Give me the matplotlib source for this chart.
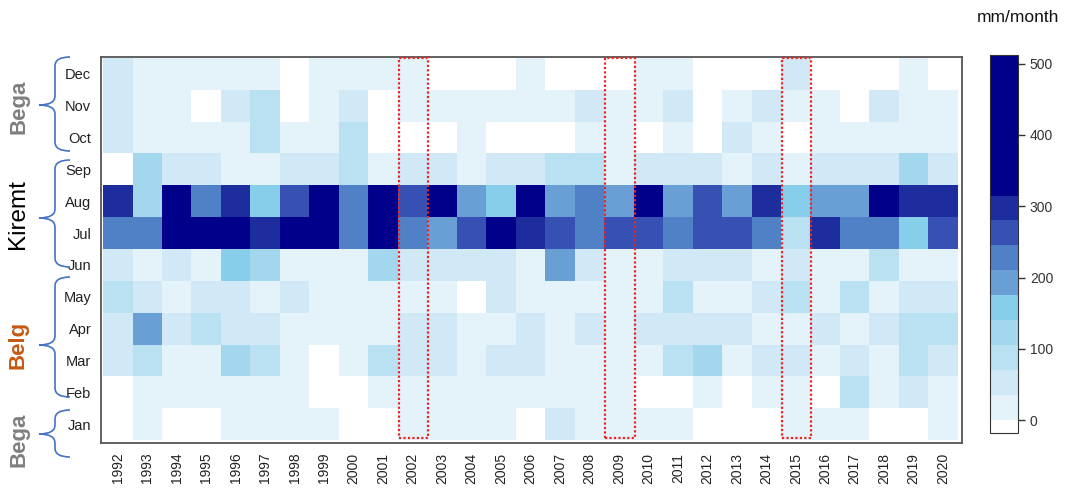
import numpy as np
import matplotlib
matplotlib.use("Agg")
import matplotlib.pyplot as plt
from matplotlib.colors import ListedColormap, BoundaryNorm
from matplotlib.patches import Rectangle, PathPatch
from matplotlib.path import Path

plt.rcParams['font.family'] = ['Liberation Sans', 'DejaVu Sans']

years = [str(y) for y in range(1992, 2021)]
months = ['Jan', 'Feb', 'Mar', 'Apr', 'May', 'Jun', 'Jul', 'Aug', 'Sep', 'Oct', 'Nov', 'Dec']

# monthly rainfall (mm/month), one list per month, 1992..2020
jan = [0, 18, 0, 0, 18, 18, 18, 18, 0, 0, 18, 18, 18, 18, 0, 52, 18, 18, 18, 18, 0, 0, 0, 18, 18, 18, 0, 0, 18]
feb = [0, 18, 18, 18, 18, 18, 18, 0, 0, 18, 18, 18, 18, 18, 18, 18, 18, 18, 0, 0, 18, 0, 18, 18, 0, 88, 18, 52, 18]
mar = [52, 88, 18, 18, 122, 88, 18, 0, 18, 88, 52, 52, 18, 52, 52, 18, 18, 18, 18, 88, 122, 18, 52, 52, 18, 52, 18, 88, 52]
apr = [52, 192, 52, 88, 52, 52, 18, 18, 18, 18, 52, 52, 18, 18, 52, 18, 52, 18, 52, 52, 52, 52, 18, 18, 52, 18, 52, 88, 88]
may = [88, 52, 18, 52, 52, 18, 52, 18, 18, 18, 18, 18, 0, 52, 18, 18, 18, 18, 18, 88, 18, 18, 52, 88, 18, 88, 18, 52, 52]
jun = [52, 18, 52, 18, 158, 122, 18, 18, 18, 122, 52, 52, 52, 52, 18, 192, 52, 18, 18, 52, 52, 52, 18, 52, 18, 18, 88, 18, 18]
jul = [228, 228, 420, 430, 410, 298, 440, 400, 228, 420, 228, 192, 262, 450, 298, 262, 228, 262, 262, 228, 262, 262, 228, 88, 298, 228, 228, 158, 262]
aug = [298, 122, 410, 228, 298, 158, 262, 430, 228, 400, 262, 390, 192, 158, 420, 192, 228, 192, 400, 192, 262, 192, 298, 158, 192, 192, 380, 298, 298]
sep = [0, 122, 52, 52, 18, 18, 52, 52, 88, 18, 52, 52, 18, 52, 52, 88, 88, 18, 52, 52, 52, 18, 52, 18, 52, 52, 52, 122, 52]
octo = [52, 18, 18, 18, 18, 88, 18, 18, 88, 0, 0, 0, 18, 0, 0, 0, 18, 18, 0, 18, 0, 52, 18, 0, 18, 18, 18, 18, 18]
nov = [52, 18, 18, 0, 52, 88, 0, 18, 52, 0, 18, 18, 18, 18, 18, 18, 52, 18, 18, 52, 0, 18, 52, 18, 18, 0, 52, 18, 18]
dec = [52, 18, 18, 18, 18, 18, 0, 18, 18, 18, 18, 0, 0, 0, 18, 0, 0, 0, 18, 18, 0, 0, 0, 52, 0, 0, 0, 18, 0]

highlight_years = ['2002', '2009', '2015']

# colour classes of the legend
levels = [-18, 0.5, 35, 70, 105, 140, 175, 210, 245, 280, 315, 512]
colors = ['#ffffff', '#e4f3fa', '#d1e9f6', '#b9e1f1', '#a2d7ee', '#87ceeb',
          '#6a9fd6', '#5080c6', '#3651b3', '#1e2d9d', '#00008b']

rain = np.array([jan, feb, mar, apr, may, jun, jul, aug, sep, octo, nov, dec])

W, H = 1071, 490
fig = plt.figure(figsize=(W / 100, H / 100), dpi=100)

def fx(px):
    return px / W

def fy(py):
    return 1 - py / H

ax = fig.add_axes([fx(101), fy(443), fx(962) - fx(101), fy(57) - fy(443)])
cmap = ListedColormap(colors)
norm = BoundaryNorm(levels, cmap.N)
mesh = ax.pcolormesh(np.arange(len(years) + 1), np.arange(len(months) + 1), rain,
                     cmap=cmap, norm=norm)
ax.set_xlim(-0.07, len(years) + 0.14)
ax.set_ylim(-0.09, len(months) + 0.03)
ax.set_xticks(np.arange(len(years)) + 0.5)
ax.set_xticklabels(years, rotation=90, fontsize=10, color='#222222')
ax.set_yticks(np.arange(len(months)) + 0.5)
ax.set_yticklabels(months, fontsize=10.5, color='#222222')
ax.tick_params(length=0, pad=7)
for s in ax.spines.values():
    s.set_color('#555555')
    s.set_linewidth(1.3)

for yr in highlight_years:
    c = years.index(yr)
    ax.add_patch(Rectangle((c + 0.03, 0.08), 1.0, 11.92, fill=False, edgecolor='#ee2222',
                           linestyle=(0, (1, 1)), linewidth=1.6, clip_on=False, zorder=5))

# colorbar
cax = fig.add_axes([fx(990), fy(433), fx(1018) - fx(990), fy(55) - fy(433)])
cb = fig.colorbar(mesh, cax=cax, ticks=[0, 100, 200, 300, 400, 500], spacing='proportional')
cb.minorticks_off()
cb.ax.tick_params(labelsize=10, colors='#333333', length=5, width=1)
cb.outline.set_edgecolor('#333333')
fig.text(fx(1018), fy(18), 'mm/month', fontsize=12.5, ha='center', va='center', color='#111111')

# season braces on the left
def brace(y0, y1, ytip, xs=55, xtip=39, xe=70, r=9):
    pts = [(xe, y0), (xs, y0), (xs, y0 + r),
           (xs, ytip - r), (xs, ytip), (xtip, ytip),
           (xs, ytip), (xs, ytip + r),
           (xs, y1 - r), (xs, y1), (xe, y1)]
    codes = [Path.MOVETO, Path.CURVE3, Path.CURVE3,
             Path.LINETO, Path.CURVE3, Path.CURVE3,
             Path.CURVE3, Path.CURVE3,
             Path.LINETO, Path.CURVE3, Path.CURVE3]
    verts = [(fx(x), fy(y)) for x, y in pts]
    fig.add_artist(PathPatch(Path(verts, codes), transform=fig.transFigure,
                             fill=False, edgecolor='#4472c4', linewidth=1.2))

brace(57, 151, 105)
brace(160, 267, 218)
brace(277, 397, 345)
brace(410, 457, 434)

fig.text(fx(19), fy(107), 'Bega', rotation=90, fontsize=16, fontweight='bold',
         color='#7f7f7f', ha='center', va='center')
fig.text(fx(18), fy(214), 'Kiremt', rotation=90, fontsize=17.5,
         color='#000000', ha='center', va='center')
fig.text(fx(18), fy(345), 'Belg', rotation=90, fontsize=16, fontweight='bold',
         color='#c55a11', ha='center', va='center')
fig.text(fx(19), fy(440), 'Bega', rotation=90, fontsize=16, fontweight='bold',
         color='#7f7f7f', ha='center', va='center')

fig.savefig('out.png', dpi=100)
